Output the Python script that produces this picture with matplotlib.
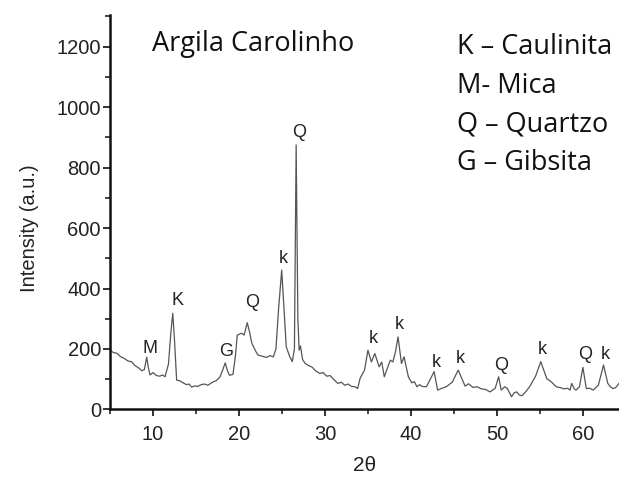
import numpy as np
import matplotlib
matplotlib.use("Agg")
import matplotlib.pyplot as plt
from matplotlib.ticker import MultipleLocator

# diffractogram (2theta, intensity)
two_theta = [5.0, 5.4, 5.8, 6.2, 6.7, 7.1, 7.5, 7.9, 8.3, 8.7, 9.0, 9.27, 9.45, 9.65, 10.0,
             10.4, 10.8, 11.1, 11.4, 11.8, 12.1, 12.3, 12.5, 12.75, 13.1, 13.5, 13.9, 14.2, 14.5,
             14.9, 15.2, 15.6, 16.0, 16.4, 16.7, 17.0, 17.4, 17.8, 18.1, 18.4, 18.7, 18.9,
             19.3, 19.6, 19.8, 20.3, 20.6, 20.96, 21.2, 21.5, 21.9, 22.2, 22.7, 23.2, 23.6, 24.0,
             24.3, 24.6, 24.97, 25.2, 25.5, 25.9, 26.2, 26.45, 26.65, 26.85, 27.0, 27.15, 27.4,
             27.7, 28.1, 28.5, 28.9, 29.4, 29.8, 30.2, 30.6, 31.0, 31.5, 31.9, 32.3, 32.7, 33.1,
             33.5, 33.8, 34.1, 34.6, 35.0, 35.4, 35.8, 36.3, 36.6, 36.9, 37.3, 37.6, 37.9, 38.2,
             38.5, 38.9, 39.2, 39.7, 40.1, 40.4, 40.7, 41.0, 41.3, 41.8, 42.2, 42.7, 43.1, 43.6,
             44.1, 44.8, 45.5, 46.3, 46.7, 47.2, 47.7, 48.2, 48.7, 49.2, 49.8, 50.2, 50.5, 50.9,
             51.2, 51.7, 52.0, 52.3, 52.6, 52.9, 53.4, 53.8, 54.5, 55.1, 55.8, 56.3, 56.9, 57.4,
             57.8, 58.2, 58.5, 58.7, 59.0, 59.2, 59.6, 60.0, 60.4, 60.8, 61.2, 61.8, 62.4, 62.9,
             63.2, 63.5, 63.8, 64.2]
intensity = [196, 188, 186, 175, 168, 160, 158, 145, 138, 128, 132, 173, 140, 114, 122,
             112, 110, 114, 108, 150, 260, 318, 230, 97, 95, 88, 82, 84, 74,
             78, 76, 82, 84, 80, 86, 91, 96, 108, 130, 154, 125, 113,
             116, 180, 246, 252, 246, 287, 260, 219, 195, 180, 176, 172, 178, 174,
             200, 330, 461, 350, 207, 175, 158, 200, 875, 300, 196, 210, 165,
             152, 145, 140, 128, 119, 122, 110, 112, 100, 86, 90, 80, 84, 76,
             75, 69, 104, 130, 196, 157, 185, 141, 157, 108, 140, 163, 157, 190,
             240, 152, 174, 108, 88, 92, 75, 82, 76, 75, 97, 125, 64, 70,
             75, 90, 130, 77, 85, 73, 75, 68, 66, 58, 70, 108, 64, 75,
             70, 42, 55, 58, 48, 45, 60, 75, 110, 158, 102, 92, 75, 72,
             68, 70, 64, 86, 68, 64, 75, 139, 69, 70, 64, 80, 147, 86,
             75, 69, 72, 86]

# peak labels
peak_labels = ["M", "K", "G", "Q", "k", "Q", "k", "k", "k", "k", "Q", "k", "Q", "k"]
peak_x = [9.65, 12.9, 18.5, 21.5, 25.2, 27.0, 35.6, 38.7, 42.9, 45.8, 50.5, 55.3, 60.3, 62.6]
peak_y = [202, 360, 190, 355, 500, 915, 235, 282, 155, 167, 146, 199, 181, 181]

legend_lines = ["K \u2013 Caulinita", "M- Mica", "Q \u2013 Quartzo", "G \u2013 Gibsita"]

plt.rcParams['font.family'] = ['Liberation Sans', 'DejaVu Sans']

fig = plt.figure(figsize=(6.19, 4.8), dpi=100)
ax = fig.add_axes([0.1777, 0.147, 0.8223, 0.822])

ax.plot(two_theta, intensity, color='#555555', lw=0.9)

for lab, x, y in zip(peak_labels, peak_x, peak_y):
    ax.text(x, y, lab, ha='center', va='center', fontsize=13, color='#222222')

ax.set_xlim(5, 64.2)
ax.set_ylim(0, 1305)
ax.xaxis.set_major_locator(MultipleLocator(10))
ax.xaxis.set_minor_locator(MultipleLocator(5))
ax.yaxis.set_major_locator(MultipleLocator(200))
ax.yaxis.set_minor_locator(MultipleLocator(100))
ax.tick_params(which='major', direction='out', length=5, width=1.3, labelsize=14.5,
               colors='#222222', pad=1.5)
ax.tick_params(axis='x', which='major', pad=6)
ax.tick_params(which='minor', direction='out', length=3.5, width=1.2, colors='#222222')

for side in ['top', 'right']:
    ax.spines[side].set_visible(False)
for side in ['left', 'bottom']:
    ax.spines[side].set_linewidth(1.8)
    ax.spines[side].set_color('#111111')

ax.set_xlabel("2\u03b8", fontsize=15, color='#222222', labelpad=9)
ax.set_ylabel("Intensity (a.u.)", fontsize=14.5, color='#222222')
ax.yaxis.set_label_coords(-0.14, 0.46)

fig.text(0.246, 0.908, "Argila Carolinho", fontsize=19.5, family='Open Sans',
         ha='left', va='center', color='#111111')
for i, line in enumerate(legend_lines):
    fig.text(0.738, 0.902 - i * 0.0805, line, fontsize=19.5, family='Open Sans',
             ha='left', va='center', color='#111111')

fig.savefig("out.png", dpi=100)
